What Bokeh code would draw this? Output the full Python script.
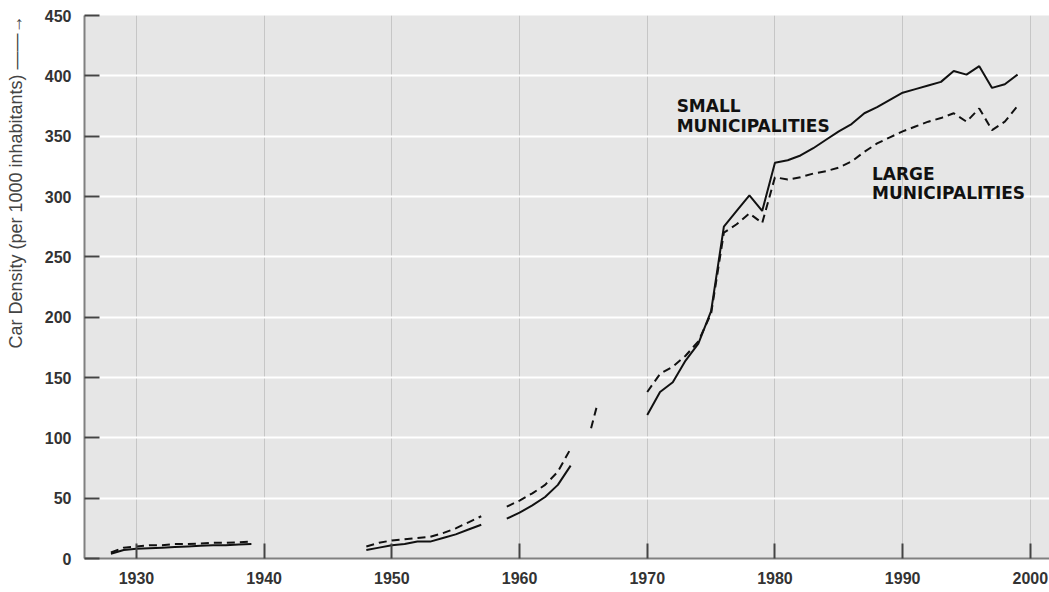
from bokeh.plotting import figure
from bokeh.models import Range1d, FixedTicker, Label
from bokeh.embed import file_html
from bokeh.resources import INLINE

NAN = float("nan")

# ---- data ----
years_early = list(range(1928, 1940))
small_early = [4, 7, 8, 8.5, 9, 9.5, 10, 10.5, 11, 11, 11.5, 12]
large_early = [5, 9, 10, 11, 11, 12, 12, 12.5, 13, 13, 13.5, 14]

years_50s = list(range(1948, 1958))
small_50s = [7, 9, 11, 12, 14, 14, 17, 20, 24, 28]
large_50s = [10, 13, 15, 16, 17, 18, 21, 25, 30, 35]

years_60s = list(range(1959, 1965))
small_60s = [33, 38, 44, 51, 61, 77]
large_60s = [43, 48, 54, 61, 72, 91]

years_66 = [1965.6, 1966.1]
large_66 = [108, 128]

years_late = list(range(1970, 2000))
small_late = [119, 138, 146, 164, 178, 205, 275, 288, 301, 288,
              328, 330, 334, 340, 347, 354, 360, 369, 374, 380,
              386, 389, 392, 395, 404, 401, 408, 390, 393, 401]
large_late = [138, 153, 159, 168, 180, 203, 270, 277, 286, 278,
              316, 314, 316, 319, 321, 324, 329, 337, 344, 349,
              354, 358, 362, 365, 369, 362, 373, 355, 362, 375]

x_ticks = [1930, 1940, 1950, 1960, 1970, 1980, 1990, 2000]
y_ticks = [0, 50, 100, 150, 200, 250, 300, 350, 400, 450]

y_title = "Car Density (per 1000 inhabitants) \u2014\u2014\u2192"
label_small = ["SMALL", "MUNICIPALITIES"]
label_large = ["LARGE", "MUNICIPALITIES"]


def join(*segs):
    xs, ys = [], []
    for i, (sx, sy) in enumerate(segs):
        if i:
            xs.append(NAN)
            ys.append(NAN)
        xs.extend(sx)
        ys.extend(sy)
    return xs, ys


sx, sy = join((years_early, small_early), (years_50s, small_50s),
              (years_60s, small_60s), (years_late, small_late))
lx, ly = join((years_early, large_early), (years_50s, large_50s),
              (years_60s, large_60s), (years_66, large_66),
              (years_late, large_late))

p = figure(width=1049, height=592, x_range=Range1d(1925.93, 2001.5),
           y_range=Range1d(0, 450), output_backend="svg",
           toolbar_location=None, min_border_left=84, min_border_right=0,
           min_border_top=15, min_border_bottom=34,
           background_fill_color="#e6e6e6", border_fill_color="white",
           outline_line_color=None)

tick_font = "Liberation Sans Narrow, Liberation Sans"

p.xaxis.ticker = FixedTicker(ticks=x_ticks)
p.yaxis.ticker = FixedTicker(ticks=y_ticks)
for ax in (p.xaxis, p.yaxis):
    ax.axis_line_color = "#808080"
    ax.axis_line_width = 2
    ax.major_tick_in = 15
    ax.major_tick_out = 0
    ax.major_tick_line_color = "#444444"
    ax.major_tick_line_width = 2
    ax.minor_tick_line_color = None
    ax.major_label_text_font = tick_font
    ax.major_label_text_font_style = "bold"
    ax.major_label_text_font_size = "16px"
    ax.major_label_text_color = "#333333"
p.xaxis.major_label_standoff = 13
p.yaxis.major_label_standoff = 13

# y axis title: leading no-break spaces move the centred text up so the
# arrow ends at the top of the frame, as in the reference
p.yaxis.axis_label = "\u00a0" * 42 + y_title
p.yaxis.axis_label_text_font = "Liberation Sans"
p.yaxis.axis_label_text_font_style = "normal"
p.yaxis.axis_label_text_font_size = "18px"
p.yaxis.axis_label_text_color = "#444444"
p.yaxis.axis_label_standoff = 16

p.xgrid.grid_line_color = "#c6c6c6"
p.xgrid.grid_line_width = 1
p.ygrid.grid_line_color = "white"
p.ygrid.grid_line_width = 2

p.line(sx, sy, line_color="#111111", line_width=2)
p.line(lx, ly, line_color="#111111", line_width=2, line_dash="8 5")

ann_font = "DejaVu Sans"
for txt, yv in zip(label_small, [375, 358.5]):
    p.add_layout(Label(x=1972.3, y=yv, text=txt, text_font=ann_font,
                       text_font_style="bold", text_font_size="17px",
                       text_color="#111111", text_baseline="alphabetic"))
for txt, yv in zip(label_large, [319, 303]):
    p.add_layout(Label(x=1987.6, y=yv, text=txt, text_font=ann_font,
                       text_font_style="bold", text_font_size="17px",
                       text_color="#111111", text_baseline="alphabetic"))

open("out.html", "w").write(file_html(p, INLINE))
